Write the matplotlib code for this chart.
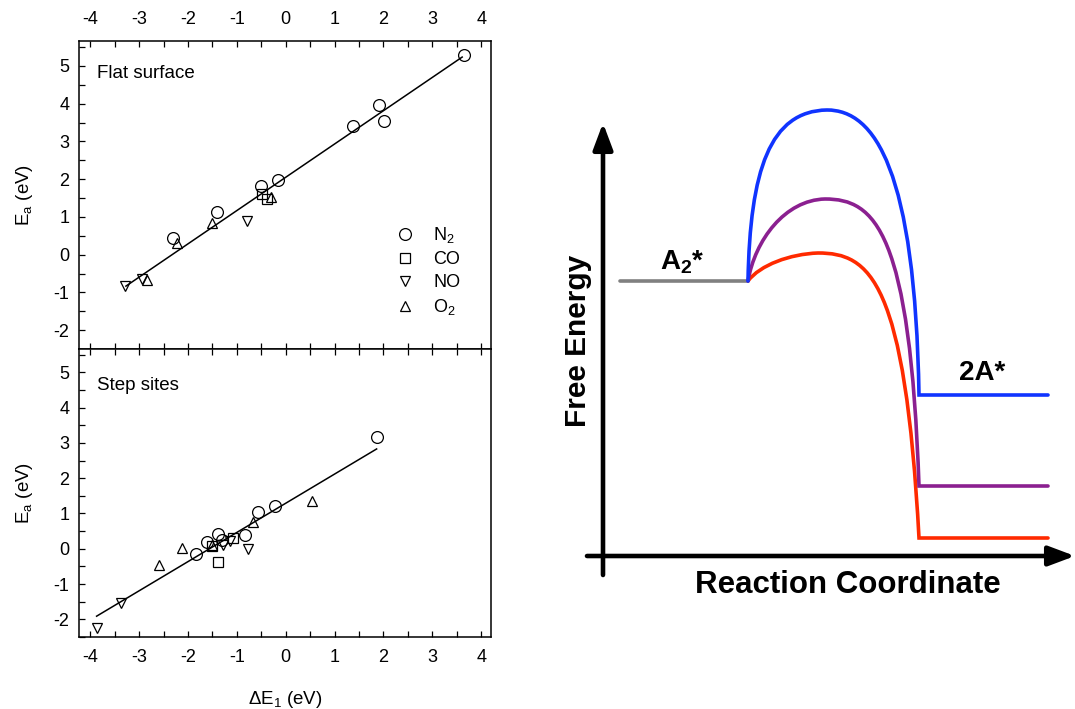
import numpy as np
import matplotlib
matplotlib.use("Agg")
import matplotlib.pyplot as plt
from matplotlib.path import Path
from matplotlib.patches import PathPatch
from matplotlib.ticker import MultipleLocator

plt.rcParams['font.family'] = ['Liberation Sans', 'DejaVu Sans']
plt.rcParams['mathtext.fontset'] = 'custom'
plt.rcParams['mathtext.rm'] = 'Liberation Sans'
plt.rcParams['mathtext.bf'] = 'Liberation Sans:bold'
plt.rcParams['axes.unicode_minus'] = False

# --- scaling relations: dissociation barrier vs reaction energy ---
flat_n2_x = [3.64, 1.91, 2.02, 1.37, -0.15, -0.50, -1.41, -2.31]
flat_n2_y = [5.30, 3.96, 3.55, 3.41, 1.99, 1.82, 1.12, 0.43]
flat_co_x = [-0.49, -0.38]
flat_co_y = [1.60, 1.47]
flat_no_x = [-0.79, -3.29, -2.95]
flat_no_y = [0.90, -0.83, -0.65]
flat_o2_x = [-2.23, -1.50, -0.31, -2.83]
flat_o2_y = [0.32, 0.85, 1.53, -0.67]
flat_fit = [0.882, 2.05]        # slope, intercept
flat_fit_range = [-3.27, 3.61]

step_n2_x = [1.86, -0.21, -0.57, -0.83, -1.38, -1.30, -1.62, -1.84]
step_n2_y = [3.17, 1.20, 1.03, 0.39, 0.41, 0.25, 0.19, -0.14]
step_co_x = [-1.39, -1.07, -1.50]
step_co_y = [-0.38, 0.30, 0.09]
step_no_x = [-3.87, -3.38, -1.29, -1.14, -0.77]
step_no_y = [-2.24, -1.55, 0.10, 0.21, 0.00]
step_o2_x = [-2.60, -2.13, -1.50, -0.66, 0.53]
step_o2_y = [-0.47, 0.02, 0.12, 0.77, 1.36]
step_fit = [0.827, 1.29]
step_fit_range = [-3.87, 1.86]

species = ['N$_2$', 'CO', 'NO', 'O$_2$']
markers = ['o', 's', 'v', '^']

# --- energy diagram (arbitrary units, initial state at 0) ---
e_is = 0.0
is_range = [-1.28, 0.0]
ts_r = [0.79, 0.77, 0.70]
ts_e = [1.71, 0.82, 0.28]
fs_e = [-1.14, -2.05, -2.57]
fs_range = [1.71, 3.0]
path_colors = ['#1034ff', '#8b2090', '#ff2a00']
# bezier handle shapes: (up P1 r, up P1 frac, up P2 r), (down P1 r, down P2 r, down P2 frac)
up_shape = [(0.02, 0.65, 0.22), (0.07, 0.50, 0.37), (0.12, 0.57, 0.42)]
down_shape = [(1.27, 1.67, 0.79), (1.27, 1.62, 0.89), (1.22, 1.57, 0.905)]

fig = plt.figure(figsize=(10.75, 7.09), dpi=100)
W, H = 1075.0, 709.0


def px_axes(x0, y0, x1, y1):
    return fig.add_axes([x0 / W, 1 - y1 / H, (x1 - x0) / W, (y1 - y0) / H])


ax1 = px_axes(79, 41, 491, 349)
ax2 = px_axes(79, 349, 491, 637)

panels = [
    (ax1, [(flat_n2_x, flat_n2_y), (flat_co_x, flat_co_y), (flat_no_x, flat_no_y), (flat_o2_x, flat_o2_y)],
     flat_fit, flat_fit_range, 'Flat surface', 0.893),
    (ax2, [(step_n2_x, step_n2_y), (step_co_x, step_co_y), (step_no_x, step_no_y), (step_o2_x, step_o2_y)],
     step_fit, step_fit_range, 'Step sites', 0.875),
]
for ax, sets, fit, frange, title, ty in panels:
    xs = np.array(frange)
    ax.plot(xs, fit[0] * xs + fit[1], color='black', lw=1.1, zorder=2)
    for (x, y), m, lab in zip(sets, markers, species):
        ax.plot(x, y, m, ms=8.5 if m == 'o' else 7.5, mfc='none', mec='black', mew=0.9,
                label=lab, zorder=3)
    ax.set_xlim(-4.23, 4.2)
    ax.set_ylim(-2.5, 5.66)
    ax.xaxis.set_major_locator(MultipleLocator(1))
    ax.xaxis.set_minor_locator(MultipleLocator(0.5))
    ax.yaxis.set_major_locator(MultipleLocator(1))
    ax.yaxis.set_minor_locator(MultipleLocator(0.5))
    ax.tick_params(which='both', direction='in', top=True, bottom=True, left=True, right=False,
                   length=4, width=0.9, labelsize=13)
    ax.tick_params(axis='y', pad=7)
    ax.tick_params(axis='x', pad=9)
    for s in ax.spines.values():
        s.set_linewidth(1.1)
    ax.set_ylabel('E$_\\mathrm{a}$ (eV)', fontsize=13.5, labelpad=13)
    ax.text(0.043, ty, title, transform=ax.transAxes, fontsize=13.5, va='center')

ax1.tick_params(labelbottom=False, labeltop=True)
ax2.set_xlabel('$\\Delta$E$_\\mathrm{1}$ (eV)', fontsize=13.5, labelpad=16)
ax1.legend(loc='upper left', bbox_to_anchor=(0.73, 0.425), frameon=False, fontsize=13,
           handletextpad=0.55, labelspacing=0.33, borderaxespad=0)

# right: free energy diagram
ax3 = px_axes(580, 95, 1075, 610)
ax3.set_xlim(-1.68, 3.27)
ax3.set_ylim(-3.29, 1.86)
ax3.axis('off')

ax3.annotate('', xy=(-1.45, 1.58), xytext=(-1.45, -2.94),
             arrowprops=dict(arrowstyle='-|>,head_length=1.6,head_width=0.6', lw=3.3, color='black',
                             shrinkA=0, shrinkB=0))
ax3.annotate('', xy=(3.27, -2.75), xytext=(-1.61, -2.75),
             arrowprops=dict(arrowstyle='-|>,head_length=1.6,head_width=0.6', lw=3.3, color='black',
                             shrinkA=0, shrinkB=0), annotation_clip=False)

ax3.plot(is_range, [e_is, e_is], color='#808080', lw=2.6, solid_capstyle='round')

for i in range(3):
    u1r, u1f, u2r = up_shape[i]
    d1r, d2r, d2f = down_shape[i]
    e_ts, e_fs = ts_e[i], fs_e[i]
    verts = [
        (is_range[1], e_is),
        (u1r, e_is + u1f * (e_ts - e_is)), (u2r, e_ts - 0.01), (ts_r[i], e_ts),
        (d1r, e_ts), (d2r, e_fs + d2f * (e_ts - e_fs)), (fs_range[0], e_fs),
        (fs_range[1], e_fs),
    ]
    codes = [Path.MOVETO] + [Path.CURVE4] * 6 + [Path.LINETO]
    ax3.add_patch(PathPatch(Path(verts, codes), fill=False, edgecolor=path_colors[i], lw=2.6,
                            capstyle='round', joinstyle='miter', zorder=3 - i))

ax3.text(-0.66, 0.19, 'A$_\\mathbf{2}$*', fontsize=20, fontweight='bold', ha='center', va='center')
ax3.text(2.34, -0.92, '2A*', fontsize=20, fontweight='bold', ha='center', va='center')
ax3.text(1.0, -3.04, 'Reaction Coordinate', fontsize=22.5, fontweight='bold', ha='center', va='center')
ax3.text(-1.70, -0.60, 'Free Energy', fontsize=21.5, fontweight='bold', ha='center', va='center',
         rotation=90)

fig.savefig('out.png', dpi=100)
